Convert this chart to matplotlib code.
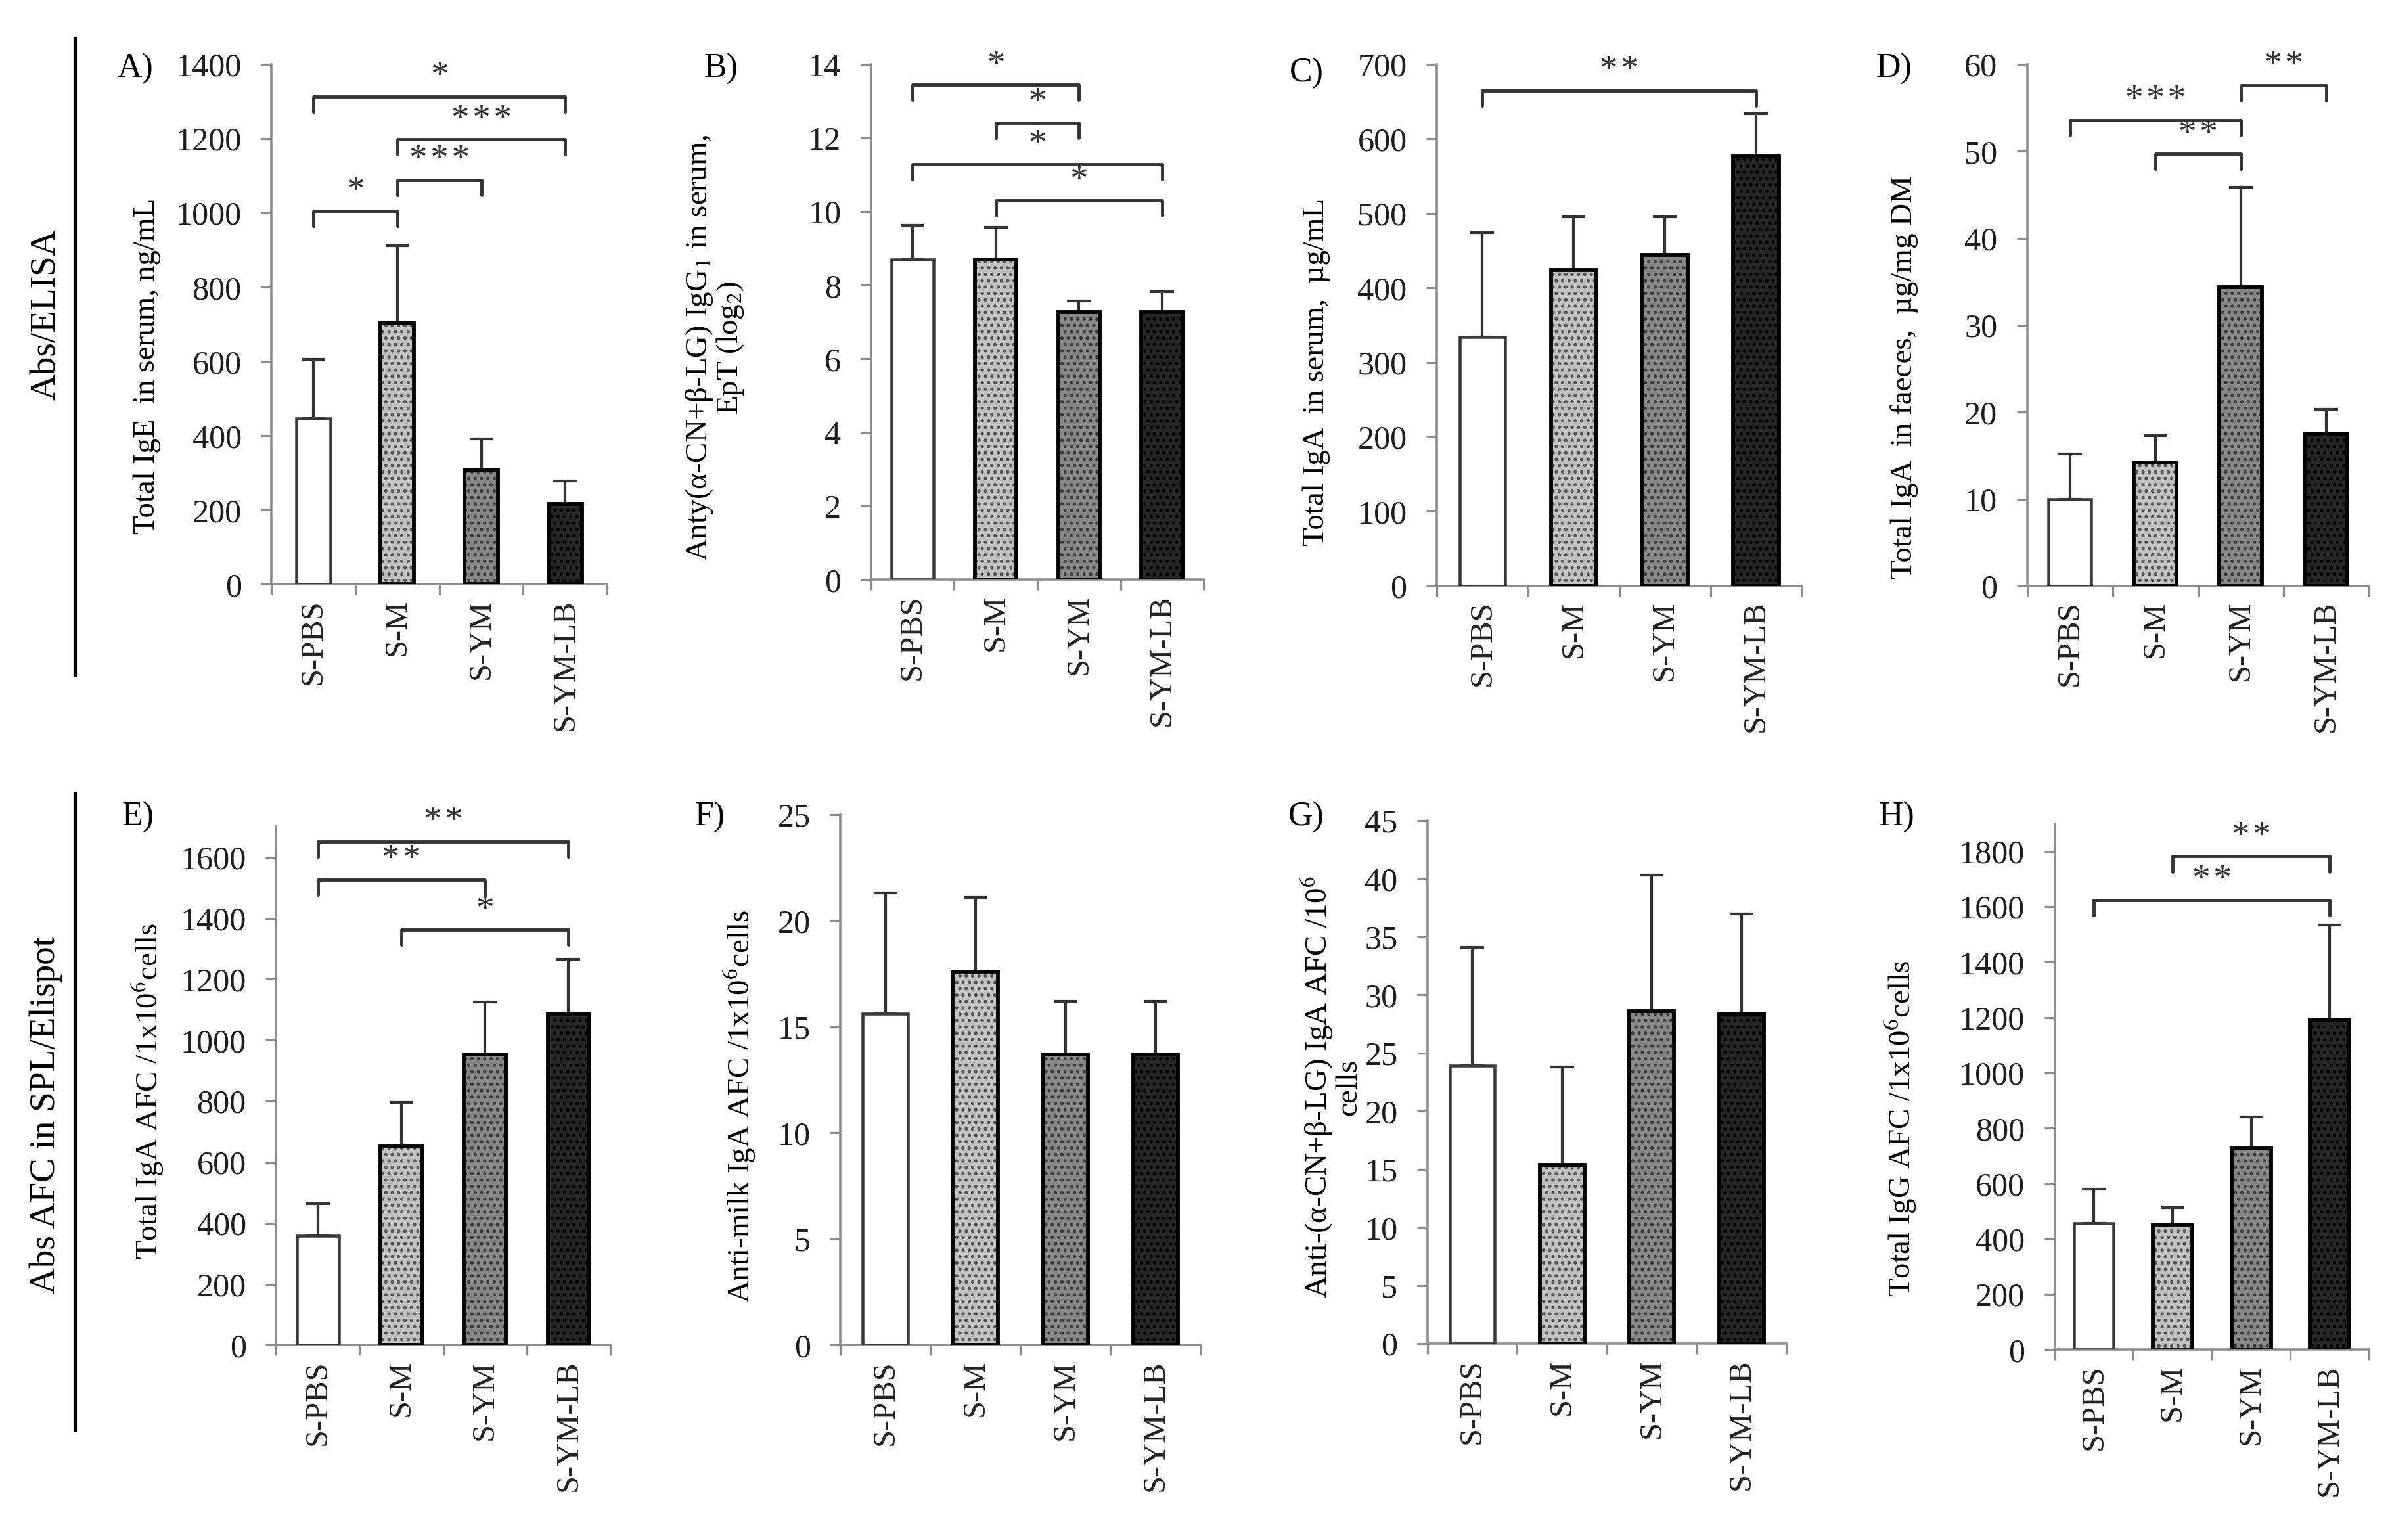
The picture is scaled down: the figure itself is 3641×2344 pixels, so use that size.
import numpy as np
import matplotlib.pyplot as plt
from matplotlib.lines import Line2D

groups = ['S-PBS', 'S-M', 'S-YM', 'S-YM-LB']

# values (mean, upper SD)
ige_serum = [446, 704, 309, 216]
ige_serum_err = [159, 208, 82, 62]
igg1_ept = [8.70, 8.70, 7.28, 7.28]
igg1_ept_err = [0.92, 0.88, 0.29, 0.54]
iga_serum = [334, 424, 444, 577]
iga_serum_err = [140, 71, 51, 57]
iga_faeces = [10.0, 14.2, 34.4, 17.5]
iga_faeces_err = [5.2, 3.1, 11.5, 2.8]
iga_afc = [358, 651, 953, 1085]
iga_afc_err = [107, 145, 172, 180]
milk_iga_afc = [15.6, 17.6, 13.7, 13.7]
milk_iga_afc_err = [5.7, 3.5, 2.5, 2.5]
prot_iga_afc = [23.9, 15.4, 28.6, 28.4]
prot_iga_afc_err = [10.2, 8.4, 11.7, 8.6]
igg_afc = [457, 453, 727, 1193]
igg_afc_err = [122, 60, 113, 340]

# significance brackets: (group a, group b, height, stars)
ige_sig = [(0, 3, 1313, '*'), (1, 3, 1198, '***'), (1, 2, 1089, '***'), (0, 1, 1005, '*')]
igg1_sig = [(0, 2, 13.44, '*'), (1, 2, 12.41, '*'), (0, 3, 11.28, '*'), (1, 3, 10.3, '*')]
iga_serum_sig = [(0, 3, 665, '**')]
iga_faeces_sig = [(0, 2, 53.6, '***'), (1, 2, 49.7, '**'), (2, 3, 57.6, '**')]
iga_afc_sig = [(0, 3, 1651, '**'), (0, 2, 1527, '**'), (1, 3, 1362, '*')]
igg_afc_sig = [(1, 3, 1782, '**'), (0, 3, 1625, '**')]

plt.rcParams['font.family'] = ['Liberation Serif', 'DejaVu Serif']
plt.rcParams['mathtext.fontset'] = 'stix'
plt.rcParams['hatch.linewidth'] = 1.0

W, H = 1560, 1004
fig = plt.figure(figsize=(15.6, 10.043), dpi=233.4)

fills = ['white', '#c2c2c2', '#888888', '#262626']
hatch_cols = ['white', '#555555', '#3c3c3c', '#000000']
hatches = ['', '....', '....', '....']
edges = ['#3a3a3a', 'black', 'black', 'black']
edge_lw = [1.4, 1.8, 1.8, 1.8]


def rect(x0, x1, top, bottom):
    return [x0 / W, 1 - bottom / H, (x1 - x0) / W, (bottom - top) / H]


def panel(box, letter, letter_xy, vals, errs, ymax, step, ytick_max, ylabel, lab_xy, sig, width=0.5):
    ax = fig.add_axes(box)
    x = np.arange(len(groups))
    for i in x:
        b = ax.bar(i, vals[i], width, color=fills[i], edgecolor=hatch_cols[i], linewidth=0, zorder=2)
        b[0].set_hatch(hatches[i])
        ax.bar(i, vals[i], width, fill=False, edgecolor=edges[i], linewidth=edge_lw[i], zorder=3)
    ax.errorbar(x, vals, yerr=[np.zeros(len(x)), errs], fmt='none', ecolor='#333333',
                elinewidth=1.3, capsize=5.5, capthick=1.3, zorder=1)

    ax.set_xlim(-0.5, 3.5)
    ax.set_ylim(0, ymax)
    ax.set_yticks(np.arange(0, ytick_max + step / 2, step))
    ax.set_xticks(x)
    ax.set_xticklabels(groups, rotation=90, fontsize=15, color='#222222')
    ax.set_xticks(np.arange(-0.5, 4, 1), minor=True)
    ax.tick_params(axis='x', which='major', length=0, pad=7)
    ax.tick_params(axis='x', which='minor', length=5, width=1, color='#8c8c8c', direction='out')
    ax.tick_params(axis='y', length=5, width=1, color='#8c8c8c', direction='out',
                   labelsize=15.5, labelcolor='#1e1e1e', pad=9)
    for s in ['top', 'right']:
        ax.spines[s].set_visible(False)
    for s in ['left', 'bottom']:
        ax.spines[s].set_color('#8c8c8c')
        ax.spines[s].set_linewidth(1.1)

    ax.set_ylabel(ylabel, fontsize=14.5, va='center', ha='center', linespacing=1.0)
    ax.yaxis.set_label_coords(*lab_xy)

    leg = 0.029 * ymax
    for a, b, h, stars in sig:
        ax.plot([a, a, b, b], [h - leg, h, h, h - leg], color='#333333', lw=1.5,
                solid_joinstyle='round', solid_capstyle='round', zorder=4)
        ax.text((a + b) / 2, h + 0.006 * ymax, '\u200a'.join(stars), ha='center', va='bottom',
                fontsize=17, color='#333333')

    fig.text(letter_xy[0] / W, 1 - letter_xy[1] / H, letter, ha='center', va='center', fontsize=16)
    return ax


panel(rect(177, 396, 42, 381), 'A)', (88, 45), ige_serum, ige_serum_err, 1400, 200, 1400,
      'Total IgE  in serum, ng/mL', (-0.37, 0.42), ige_sig, width=0.4)
panel(rect(568, 785, 42, 378), 'B)', (470, 45), igg1_ept, igg1_ept_err, 14, 2, 14,
      'Anty(α-CN+β-LG) IgG$_1$ in serum,\nEpT (log$_2$)', (-0.47, 0.45), igg1_sig)
panel(rect(937, 1175, 42, 382), 'C)', (852, 48), iga_serum, iga_serum_err, 700, 100, 700,
      'Total IgA  in serum,  µg/mL', (-0.33, 0.41), iga_serum_sig)
panel(rect(1322, 1545, 42, 382), 'D)', (1235, 45), iga_faeces, iga_faeces_err, 60, 10, 60,
      'Total IgA  in faeces,  µg/mg DM', (-0.36, 0.40), iga_faeces_sig)

panel(rect(180, 398, 539, 877), 'E)', (90, 533), iga_afc, iga_afc_err, 1700, 200, 1600,
      'Total IgA AFC /1x10$^6$cells', (-0.385, 0.49), iga_afc_sig)
panel(rect(548, 783, 531, 877), 'F)', (463, 533), milk_iga_afc, milk_iga_afc_err, 25, 5, 25,
      'Anti-milk IgA AFC /1x10$^6$cells', (-0.28, 0.45), [])
panel(rect(931, 1165, 535, 876), 'G)', (852, 533), prot_iga_afc, prot_iga_afc_err, 45, 5, 45,
      'Anti-(α-CN+β-LG) IgA AFC /10$^6$\ncells', (-0.27, 0.49), [])
panel(rect(1340, 1545, 537, 880), 'H)', (1237, 533), igg_afc, igg_afc_err, 1900, 200, 1800,
      'Total IgG AFC /1x10$^6$cells', (-0.49, 0.42), igg_afc_sig)

# row labels with separator lines
fig.text(30 / W, 1 - 205 / H, 'Abs/ELISA', rotation=90, ha='center', va='center', fontsize=17)
fig.text(30 / W, 1 - 727 / H, 'Abs AFC in SPL/Elispot', rotation=90, ha='center', va='center', fontsize=17)
fig.add_artist(Line2D([49 / W, 49 / W], [1 - 25 / H, 1 - 440 / H], transform=fig.transFigure,
                      color='black', lw=1.6))
fig.add_artist(Line2D([49 / W, 49 / W], [1 - 517 / H, 1 - 932 / H], transform=fig.transFigure,
                      color='black', lw=1.6))

fig.savefig('out.png', dpi=233.4, facecolor='white')
